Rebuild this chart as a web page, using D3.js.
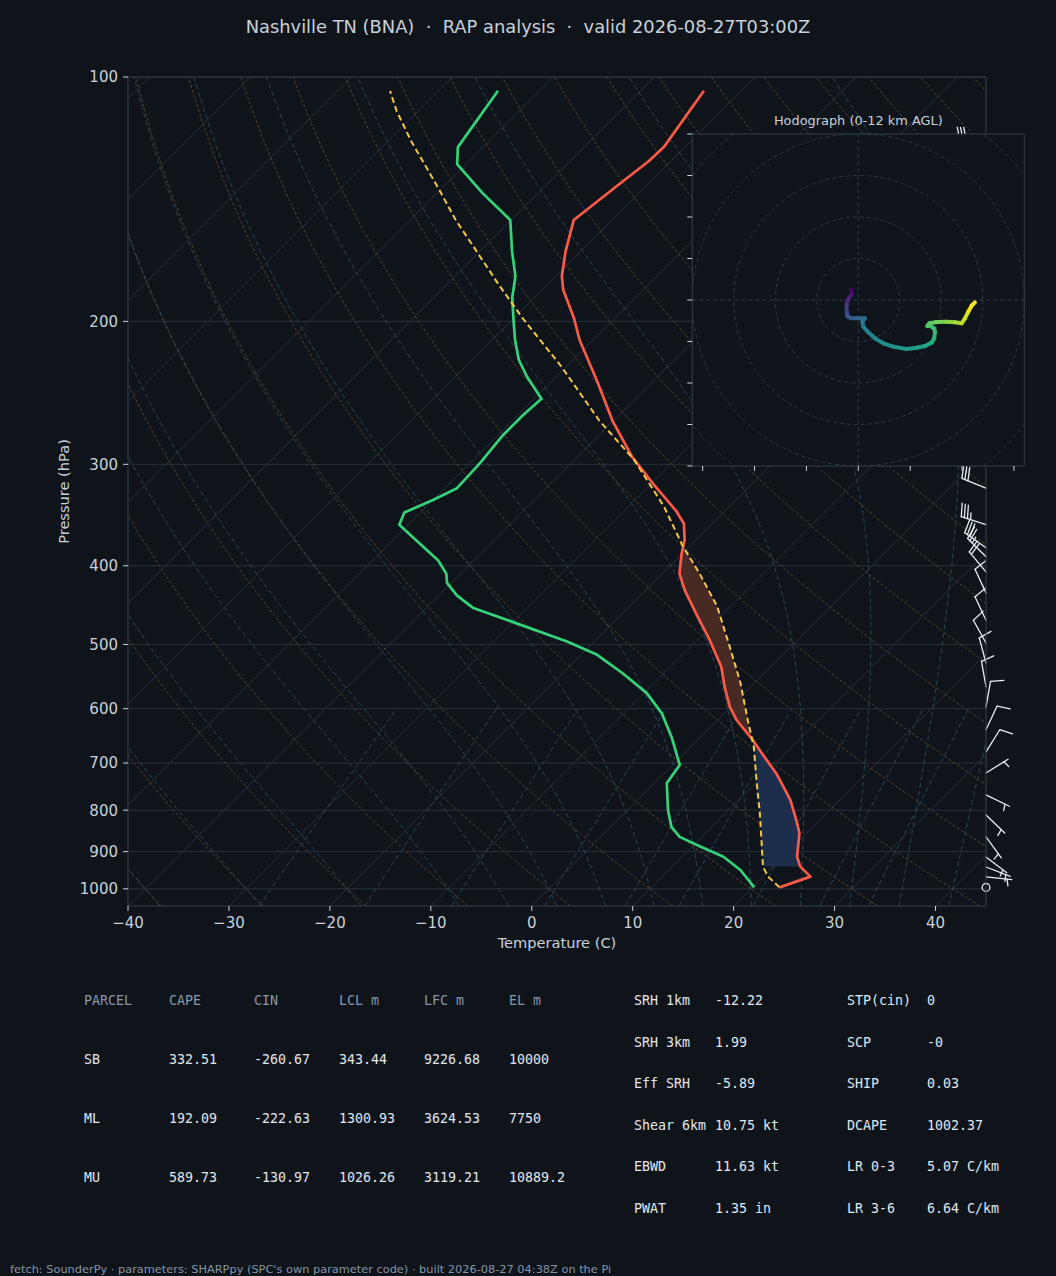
<!DOCTYPE html>
<html><head><meta charset="utf-8">
<script src="https://cdn.jsdelivr.net/npm/d3@7"></script>
<style>
html,body{margin:0;padding:0;background:#0f141b;}
svg{display:block;}
text{white-space:pre;}
</style></head>
<body><svg id="chart" width="1056" height="1276"></svg>
<script>
// ---------------- DATA ----------------
const chartTitle = "Nashville TN (BNA)  ·  RAP analysis  ·  valid 2026-08-27T03:00Z";
const hodoTitle = "Hodograph (0-12 km AGL)";
const footerText = "fetch: SounderPy · parameters: SHARPpy (SPC's own parameter code) · built 2026-08-27 04:38Z on the Pi";

// environmental temperature (hPa, °C)
const tempPressure = [996, 966, 939, 913, 854, 823, 777, 721, 694, 653, 620, 597, 564, 533, 494, 458, 429, 409, 386, 372, 355, 342, 317, 294, 265, 238, 211, 198, 183, 176, 164, 150, 135, 127, 122, 104];
const tempC        = [22.7, 24.7, 22.7, 21.4, 19.3, 17.7, 15.1, 11.1, 8.8, 5.2, 1.9, -0.1, -2.6, -4.9, -8.7, -12.7, -16.1, -18.3, -20.1, -21.1, -22.8, -24.9, -29.8, -34.5, -40.1, -45.3, -51.3, -54.1, -57.9, -59.4, -61.5, -63.8, -62.8, -62.2, -62.1, -63.7];

// dewpoint (hPa, °C)
const dewPressure = [996, 948, 913, 887, 863, 839, 800, 741, 704, 650, 608, 574, 543, 515, 496, 471, 451, 435, 420, 409, 394, 372, 356, 344, 332, 321, 299, 276, 261, 249, 234, 223, 211, 199, 187, 176, 164, 150, 139, 128, 122, 104];
const dewC        = [20.2, 17.1, 14.1, 10.8, 7.8, 6.0, 4.0, 1.2, 0.7, -2.9, -6.2, -9.7, -14.0, -18.4, -22.7, -29.5, -35.3, -38.2, -40.4, -41.4, -43.5, -47.7, -50.9, -51.6, -50.0, -48.8, -49.0, -49.5, -49.5, -49.3, -52.9, -55.4, -57.7, -59.9, -62.2, -64.0, -66.8, -70.1, -75.5, -80.9, -82.5, -84.1];

// surface-based parcel (hPa, °C)
const parcelPressure = [996, 966, 939, 887, 807, 735, 668, 620, 558, 503, 449, 409, 379, 338, 296, 265, 227, 198, 180, 166, 150, 137, 120, 110, 104];
const parcelC        = [22.7, 20.5, 19.0, 16.9, 13.4, 9.8, 6.2, 3.0, -1.4, -6.1, -11.3, -16.3, -20.6, -26.5, -34.1, -41.4, -50.6, -59.2, -64.9, -69.6, -75.5, -80.4, -87.7, -92.2, -94.8];

// shaded layers (hPa): bottom, top
const cinLayer  = [939, 653];
const capeLayer = [653, 379];

// wind barbs
const windPressure = [120, 145, 175, 210, 245, 280, 300, 321, 356, 380, 390, 407, 432, 467, 498, 527, 564, 597, 637, 678, 720, 766, 811, 863, 914, 940, 967, 996];
const windDir      = [272, 278, 280, 282, 285, 285, 288, 292, 288, 305, 315, 320, 335, 335, 331, 345, 350, 10, 25, 32, 58, 116, 134, 144, 127, 111, 96, 0];
const windSpeed    = [30, 30, 30, 30, 25, 25, 30, 30, 35, 30, 25, 20, 10, 10, 10, 10, 10, 10, 10, 10, 5, 5, 5, 5, 5, 5, 5, 0];

// hodograph (kt) and height (km AGL)
const hodoU = [-1.77, -1.45, -2.01, -2.57, -2.81, -2.81, -2.57, -1.61, 0.0, 1.61, 0.96, 1.20, 2.41, 4.02, 6.02, 8.43, 11.65, 14.06, 16.06, 17.67, 18.31, 18.47, 18.23, 17.43, 16.63, 17.11, 18.88, 21.29, 23.29, 24.90, 25.70, 26.51, 27.31, 28.11];
const hodoV = [2.57, 1.61, 0.80, 0.0, -1.20, -2.81, -4.02, -4.42, -4.42, -4.42, -5.22, -6.43, -7.79, -9.24, -10.44, -11.24, -11.81, -11.49, -11.08, -10.28, -9.24, -7.63, -6.83, -6.27, -6.27, -5.62, -5.30, -5.22, -5.38, -5.62, -4.42, -2.81, -1.37, -0.56];
const hodoHeightKm = [0.0, 0.4, 0.8, 1.2, 1.8, 2.4, 2.9, 3.3, 3.7, 4.1, 4.5, 4.9, 5.2, 5.5, 5.8, 6.1, 6.4, 6.7, 7.0, 7.3, 7.6, 7.9, 8.2, 8.4, 8.6, 8.8, 9.2, 9.7, 10.2, 10.6, 11.0, 11.4, 11.7, 12.0];

// axes ticks
const pressureTicks = [100, 200, 300, 400, 500, 600, 700, 800, 900, 1000];
const tempTicks = [-40, -30, -20, -10, 0, 10, 20, 30, 40];
const isothermValues = [-120, -110, -100, -90, -80, -70, -60, -50, -40, -30, -20, -10, 0, 10, 20, 30, 40];
const hodoRings = [10, 20, 30, 40, 50];
const hodoYTicks = [-40, -30, -20, -10, 0, 10, 20, 30, 40];
const hodoXTicks = [-37.5, -25, -12.5, 0, 12.5, 25, 37.5];

// thermodynamic reference lines
const dryAdiabatT0 = [-40, -30, -20, -10, 0, 10, 20, 30, 40, 50, 60, 70, 80, 90, 100, 110, 120, 130, 140, 150, 160, 170, 180, 190, 200];
const moistAdiabatT0 = [-50, -40, -30, -20, -10, -5, 0, 5, 10, 15, 20, 25, 30, 35, 40, 45];
const mixingRatios = [0.0004, 0.001, 0.002, 0.004, 0.007, 0.01, 0.016, 0.024, 0.032];

// tables
const parcelHeader = ["PARCEL", "CAPE", "CIN", "LCL m", "LFC m", "EL m"];
const parcelRows = [
  ["SB", "332.51", "-260.67", "343.44", "9226.68", "10000"],
  ["ML", "192.09", "-222.63", "1300.93", "3624.53", "7750"],
  ["MU", "589.73", "-130.97", "1026.26", "3119.21", "10889.2"]
];
const paramLabelsA = ["SRH 1km", "SRH 3km", "Eff SRH", "Shear 6km", "EBWD", "PWAT"];
const paramValuesA = ["-12.22", "1.99", "-5.89", "10.75 kt", "11.63 kt", "1.35 in"];
const paramLabelsB = ["STP(cin)", "SCP", "SHIP", "DCAPE", "LR 0-3", "LR 3-6"];
const paramValuesB = ["0", "-0", "0.03", "1002.37", "5.07 C/km", "6.64 C/km"];

// ---------------- DRAWING ----------------
const BG = "#0f141b";
const TXT = "#c9d1d9";
const GRID = "#29313c";
const SPINE = "#343e4b";
const FONT = "DejaVu Sans, sans-serif";
const MONO = "DejaVu Sans Mono, monospace";

const svg = d3.select("#chart");
svg.append("rect").attr("width", 1056).attr("height", 1276).attr("fill", BG);

const plot = {l: 128, r: 986, t: 77, b: 906};
const x = d3.scaleLinear().domain([-40, 45]).range([plot.l, plot.r]);
const y = d3.scaleLog().domain([1050, 100]).range([plot.b, plot.t]);
const skewX = (T, p) => x(T) + (plot.b - y(p));

const defs = svg.append("defs");
defs.append("clipPath").attr("id", "plotClip").append("rect")
  .attr("x", plot.l).attr("y", plot.t).attr("width", plot.r - plot.l).attr("height", plot.b - plot.t);

const gBack = svg.append("g").attr("clip-path", "url(#plotClip)");

// pressure grid
gBack.selectAll(".hgrid").data(pressureTicks).join("line")
  .attr("x1", plot.l).attr("x2", plot.r)
  .attr("y1", d => y(d)).attr("y2", d => y(d))
  .attr("stroke", GRID).attr("stroke-width", 1);

// isotherms
gBack.selectAll(".iso").data(isothermValues).join("line")
  .attr("x1", d => skewX(d, 1050)).attr("y1", y(1050))
  .attr("x2", d => skewX(d, 100)).attr("y2", y(100))
  .attr("stroke", GRID).attr("stroke-width", 1);

const lineTP = d3.line().x(d => skewX(d[1], d[0])).y(d => y(d[0]));
const logPressures = (p0, p1, n) => d3.range(n + 1).map(i => p0 * Math.pow(p1 / p0, i / n));

// dry adiabats
const dryP = logPressures(1050, 100, 80);
gBack.selectAll(".dry").data(dryAdiabatT0).join("path")
  .attr("d", t0 => lineTP(dryP.map(p => [p, (t0 + 273.15) * Math.pow(p / 1000, 0.2857) - 273.15])))
  .attr("fill", "none").attr("stroke", "#55442f").attr("stroke-width", 1)
  .attr("stroke-dasharray", "3,2");

// moist adiabats
const RD = 287.04749, CPD = 1004.6662, LV = 2.50084e6, EPS = 0.6219569;
const satVap = Tk => 6.112 * Math.exp(17.67 * (Tk - 273.15) / (Tk - 29.65));
function moistAdiabat(t0C) {
  const f = (p, T) => { const e = satVap(T); const r = EPS * e / (p - e);
    return (RD * T + LV * r) / (CPD + LV * LV * r * EPS / (RD * T * T)) / p; };
  const integ = (pS, pE, n) => {
    const out = []; let p = pS, T = t0C + 273.15; out.push([p, T - 273.15]);
    const ratio = Math.pow(pE / pS, 1 / n);
    for (let i = 0; i < n; i++) {
      const pn = p * ratio, h = pn - p;
      const k1 = f(p, T), k2 = f(p + h / 2, T + h / 2 * k1), k3 = f(p + h / 2, T + h / 2 * k2), k4 = f(pn, T + h * k3);
      T += h / 6 * (k1 + 2 * k2 + 2 * k3 + k4); p = pn; out.push([p, T - 273.15]);
    }
    return out;
  };
  const up = integ(1000, 100, 160), down = integ(1000, 1050, 8);
  return down.reverse().concat(up.slice(1));
}
gBack.selectAll(".moist").data(moistAdiabatT0).join("path")
  .attr("d", t0 => lineTP(moistAdiabat(t0)))
  .attr("fill", "none").attr("stroke", "#2a4753").attr("stroke-width", 1)
  .attr("stroke-dasharray", "5,3");

// mixing ratio lines
const mixP = logPressures(1050, 600, 30);
const dewFromW = (p, w) => { const e = p * w / (EPS + w); const a = Math.log(e / 6.112); return 243.5 * a / (17.67 - a); };
gBack.selectAll(".mix").data(mixingRatios).join("path")
  .attr("d", w => lineTP(mixP.map(p => [p, dewFromW(p, w)])))
  .attr("fill", "none").attr("stroke", "#2b4656").attr("stroke-width", 1)
  .attr("stroke-dasharray", "5,3");

// ---- profiles ----
const zip = (P, T) => P.map((p, i) => [p, T[i]]);
const envProf = zip(tempPressure, tempC);
const dewProf = zip(dewPressure, dewC);
const parProf = zip(parcelPressure, parcelC);

function interpT(prof, p) {
  const lp = Math.log(p);
  for (let i = 0; i < prof.length - 1; i++) {
    const pa = prof[i][0], pb = prof[i + 1][0];
    if (p <= pa && p >= pb) {
      const f = (Math.log(pa) - lp) / (Math.log(pa) - Math.log(pb));
      return prof[i][1] + f * (prof[i + 1][1] - prof[i][1]);
    }
  }
  return prof[prof.length - 1][1];
}
function layerArea(layer) {
  return logPressures(layer[0], layer[1], 160).map(p => ({
    y: y(p), xe: skewX(interpT(envProf, p), p), xp: skewX(interpT(parProf, p), p)
  }));
}
const areaGen = d3.area().y(d => d.y).x0(d => d.xe).x1(d => d.xp);
const gProf = svg.append("g").attr("clip-path", "url(#plotClip)");
gProf.append("path").attr("d", areaGen(layerArea(cinLayer))).attr("fill", "#1c2e4b");
gProf.append("path").attr("d", areaGen(layerArea(capeLayer))).attr("fill", "#472a24");

gProf.append("path").attr("d", lineTP(envProf)).attr("fill", "none")
  .attr("stroke", "#fa5a48").attr("stroke-width", 2.7).attr("stroke-linejoin", "round");
gProf.append("path").attr("d", lineTP(dewProf)).attr("fill", "none")
  .attr("stroke", "#36d27a").attr("stroke-width", 2.7).attr("stroke-linejoin", "round");
gProf.append("path").attr("d", lineTP(parProf)).attr("fill", "none")
  .attr("stroke", "#f2c54b").attr("stroke-width", 2).attr("stroke-dasharray", "6,3.5");

// ---- wind barbs ----
const gBarb = svg.append("g").attr("stroke", "#e6edf3").attr("stroke-width", 1.3)
  .attr("fill", "none").attr("stroke-linecap", "round");
const BL = 26, BH = 0.5 * BL, BW = 0.25 * BL, BS = 0.125 * BL;
windPressure.forEach((p, i) => {
  const bx = plot.r, by = y(p);
  const spd = Math.round(windSpeed[i] / 5) * 5;
  if (spd < 5) {
    gBarb.append("circle").attr("cx", bx).attr("cy", by).attr("r", 0.15 * BL);
    return;
  }
  const rad = windDir[i] * Math.PI / 180;
  const u = -Math.sin(rad), v = -Math.cos(rad);
  const ang = Math.atan2(v, u) + Math.PI / 2;
  const T = ([lx, ly]) => [bx + (lx * Math.cos(ang) - ly * Math.sin(ang)), by - (lx * Math.sin(ang) + ly * Math.cos(ang))];
  const nflag = Math.floor(spd / 50);
  let rem = spd - nflag * 50;
  const nbarb = Math.floor(rem / 10); rem -= nbarb * 10;
  const half = rem >= 5;
  const lines = [[[0, 0], [0, BL]]];
  let off = BL;
  for (let k = 0; k < nflag; k++) {
    lines.push([[0, off], [BH, off - BW / 2], [0, off - BW]]);
    off -= BW + BS;
  }
  for (let k = 0; k < nbarb; k++) {
    lines.push([[0, off], [BH, off + BW / 2]]);
    off -= BS;
  }
  if (half) {
    if (off === BL) off -= 1.5 * BS;
    lines.push([[0, off], [BH / 2, off + BW / 4]]);
  }
  lines.forEach(l => gBarb.append("path").attr("d", d3.line()(l.map(T))));
});

// ---- spines & ticks ----
svg.append("rect").attr("x", plot.l).attr("y", plot.t).attr("width", plot.r - plot.l).attr("height", plot.b - plot.t)
  .attr("fill", "none").attr("stroke", SPINE).attr("stroke-width", 1);

svg.selectAll(".ytick").data(pressureTicks).join("line")
  .attr("x1", plot.l - 5).attr("x2", plot.l).attr("y1", d => y(d)).attr("y2", d => y(d))
  .attr("stroke", TXT).attr("stroke-width", 1);
svg.selectAll(".ylab").data(pressureTicks).join("text")
  .attr("x", plot.l - 10).attr("y", d => y(d) + 5.4).attr("text-anchor", "end")
  .attr("font-family", FONT).attr("font-size", 15).attr("fill", TXT).text(d => d);

svg.selectAll(".xtick").data(tempTicks).join("line")
  .attr("x1", d => x(d)).attr("x2", d => x(d)).attr("y1", plot.b).attr("y2", plot.b + 5)
  .attr("stroke", TXT).attr("stroke-width", 1);
svg.selectAll(".xlab").data(tempTicks).join("text")
  .attr("x", d => x(d)).attr("y", 928).attr("text-anchor", "middle")
  .attr("font-family", FONT).attr("font-size", 15).attr("fill", TXT)
  .text(d => d < 0 ? "\u2212" + Math.abs(d) : String(d));

svg.append("text").attr("x", (plot.l + plot.r) / 2).attr("y", 948).attr("text-anchor", "middle")
  .attr("font-family", FONT).attr("font-size", 14.6).attr("fill", TXT).text("Temperature (C)");
svg.append("text").attr("transform", `translate(68.5,${(plot.t + plot.b) / 2}) rotate(-90)`).attr("text-anchor", "middle")
  .attr("font-family", FONT).attr("font-size", 14.6).attr("fill", TXT).text("Pressure (hPa)");

svg.append("text").attr("x", 528).attr("y", 32.5).attr("text-anchor", "middle")
  .attr("font-family", FONT).attr("font-size", 17.85).attr("fill", TXT).text(chartTitle);

// ---- hodograph ----
const hx = d3.scaleLinear().domain([-40, 40]).range([692.3, 1024.3]);
const hy = d3.scaleLinear().domain([-40, 40]).range([466, 134]);
defs.append("clipPath").attr("id", "hodoClip").append("rect")
  .attr("x", hx(-40)).attr("y", hy(40)).attr("width", hx(40) - hx(-40)).attr("height", hy(-40) - hy(40));
const gH = svg.append("g");
gH.append("rect").attr("x", hx(-40)).attr("y", hy(40)).attr("width", hx(40) - hx(-40)).attr("height", hy(-40) - hy(40))
  .attr("fill", BG);
const gHc = gH.append("g").attr("clip-path", "url(#hodoClip)");
gHc.selectAll(".ring").data(hodoRings).join("circle")
  .attr("cx", hx(0)).attr("cy", hy(0)).attr("r", d => hx(d) - hx(0))
  .attr("fill", "none").attr("stroke", "#2e3845").attr("stroke-width", 1).attr("stroke-dasharray", "4,3");
gHc.append("line").attr("x1", hx(-40)).attr("x2", hx(40)).attr("y1", hy(0)).attr("y2", hy(0))
  .attr("stroke", "#2e3845").attr("stroke-dasharray", "4,3");
gHc.append("line").attr("x1", hx(0)).attr("x2", hx(0)).attr("y1", hy(-40)).attr("y2", hy(40))
  .attr("stroke", "#2e3845").attr("stroke-dasharray", "4,3");
const maxH = d3.max(hodoHeightKm);
for (let i = 0; i < hodoU.length - 1; i++) {
  gHc.append("line")
    .attr("x1", hx(hodoU[i])).attr("y1", hy(hodoV[i]))
    .attr("x2", hx(hodoU[i + 1])).attr("y2", hy(hodoV[i + 1]))
    .attr("stroke", d3.interpolateViridis((hodoHeightKm[i] + hodoHeightKm[i + 1]) / 2 / maxH))
    .attr("stroke-width", 4).attr("stroke-linecap", "round");
}
gH.append("rect").attr("x", hx(-40)).attr("y", hy(40)).attr("width", hx(40) - hx(-40)).attr("height", hy(-40) - hy(40))
  .attr("fill", "none").attr("stroke", SPINE).attr("stroke-width", 1);
gH.selectAll(".hyt").data(hodoYTicks).join("line")
  .attr("x1", hx(-40) - 5).attr("x2", hx(-40)).attr("y1", d => hy(d)).attr("y2", d => hy(d))
  .attr("stroke", TXT).attr("stroke-width", 1);
gH.selectAll(".hxt").data(hodoXTicks).join("line")
  .attr("x1", d => hx(d)).attr("x2", d => hx(d)).attr("y1", hy(-40)).attr("y2", hy(-40) + 5)
  .attr("stroke", TXT).attr("stroke-width", 1);
gH.append("text").attr("x", hx(0)).attr("y", 124.5).attr("text-anchor", "middle")
  .attr("font-family", FONT).attr("font-size", 12.9).attr("fill", TXT).text(hodoTitle);

// ---- tables ----
const colX = [84, 169, 254, 339, 424, 509];
const rowY = [1005, 1063.5, 1122.5, 1181.5];
const gT = svg.append("g").attr("font-family", MONO).attr("font-size", 13.3);
parcelHeader.forEach((h, j) => gT.append("text").attr("x", colX[j]).attr("y", rowY[0]).attr("fill", "#8797ab").text(h));
parcelRows.forEach((r, i) => r.forEach((c, j) =>
  gT.append("text").attr("x", colX[j]).attr("y", rowY[i + 1]).attr("fill", "#e1e7ee").text(c)));
const pRowY = [1005, 1046.5, 1088, 1129.5, 1171, 1212.5];
paramLabelsA.forEach((l, i) => {
  gT.append("text").attr("x", 634).attr("y", pRowY[i]).attr("fill", "#e1e7ee").text(l);
  gT.append("text").attr("x", 715).attr("y", pRowY[i]).attr("fill", "#e1e7ee").text(paramValuesA[i]);
});
paramLabelsB.forEach((l, i) => {
  gT.append("text").attr("x", 847).attr("y", pRowY[i]).attr("fill", "#e1e7ee").text(l);
  gT.append("text").attr("x", 927).attr("y", pRowY[i]).attr("fill", "#e1e7ee").text(paramValuesB[i]);
});

svg.append("text").attr("x", 10).attr("y", 1273).attr("font-family", FONT).attr("font-size", 11.35)
  .attr("fill", "#8594a6").text(footerText);
</script>
</body></html>
